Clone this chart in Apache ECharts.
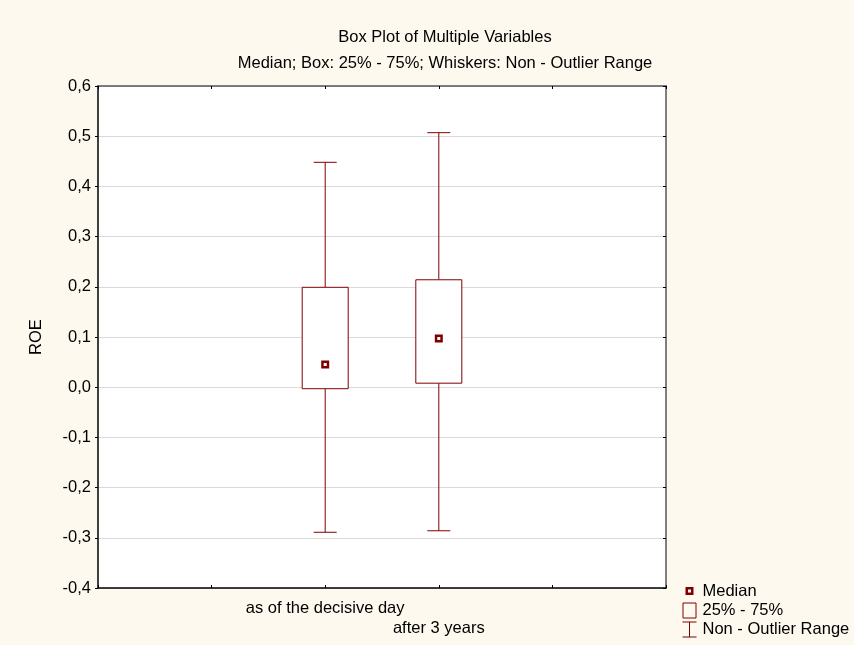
<!DOCTYPE html>
<html>
<head>
<meta charset="utf-8">
<script src="https://cdn.jsdelivr.net/npm/echarts@6/dist/echarts.min.js"></script>
<style>html,body{margin:0;padding:0;background:#fdf9ee;}#chart{width:854px;height:645px;}</style>
</head>
<body>
<div id="chart"></div>
<script>
// ---- data ----
const categories = ['as of the decisive day', 'after 3 years'];
const whiskerLow = [-0.289, -0.286];
const q1 = [-0.003, 0.008];
const median = [0.045, 0.097];
const q3 = [0.199, 0.214];
const whiskerHigh = [0.448, 0.507];
const yMin = -0.4, yMax = 0.6, yStep = 0.1;
const titleText = 'Box Plot of Multiple Variables';
const subtitleText = 'Median; Box: 25% - 75%; Whiskers: Non - Outlier Range';
const yName = 'ROE';
const legendNames = ['Median', '25% - 75%', 'Non - Outlier Range'];

// ---- chart ----
const FONT = 'Liberation Sans, Arial, sans-serif';
const RED = '#800000';
const axisData = ['pad0', 'pad1', ...categories, 'pad2', 'pad3'];
const rows = categories.map((c, i) => [c, whiskerLow[i], q1[i], median[i], q3[i], whiskerHigh[i]]);

const chart = echarts.init(document.getElementById('chart'));
const labelFmt = v => v.toFixed(1).replace('.', ',');

chart.setOption({
  backgroundColor: '#fdf9ee',
  textStyle: { fontFamily: FONT },
  title: [
    { text: titleText, left: 440, top: 24, textAlign: 'center',
      textStyle: { fontSize: 16.5, fontWeight: 'normal', color: '#000', fontFamily: FONT } },
    { text: subtitleText, left: 440, top: 50, textAlign: 'center',
      textStyle: { fontSize: 16.5, fontWeight: 'normal', color: '#000', fontFamily: FONT } }
  ],
  grid: { left: 98, top: 86, right: 188, bottom: 57, show: true, backgroundColor: '#ffffff', borderWidth: 0 },
  legend: {
    orient: 'vertical', left: 681, top: 582.5, itemWidth: 16, itemHeight: 17, itemGap: 1.5,
    selectedMode: false, padding: 0,
    textStyle: { fontSize: 16.5, color: '#000', fontFamily: FONT },
    data: [
      { name: legendNames[0], icon: 'path://M0,0M16,17M4,4.5h8v8h-8zM6.5,7v3h3v-3z',
        itemStyle: { color: RED, borderWidth: 0 } },
      { name: legendNames[1], icon: 'path://M0,0M16,17M1.5,1.5h13v15h-13z',
        itemStyle: { color: 'rgba(0,0,0,0)', borderColor: RED, borderWidth: 1 } },
      { name: legendNames[2], icon: 'path://M0,0M16,17M1,1h14v1h-14zM7.5,2h1v14h-1zM1,16h14v1h-14z',
        itemStyle: { color: RED, borderWidth: 0 } }
    ]
  },
  xAxis: [
    { type: 'category', data: axisData, boundaryGap: false, position: 'bottom',
      axisLine: { onZero: false, lineStyle: { color: '#000', width: 1.5 } },
      axisTick: { inside: true, length: 3, interval: 0, lineStyle: { color: '#000' } },
      axisLabel: { interval: 0, fontSize: 16.5, color: '#000', margin: 10, lineHeight: 20, fontFamily: FONT,
        formatter: (v) => { const k = categories.indexOf(v); return k < 0 ? '' : (k % 2 === 1 ? '\n' + v : v); } },
      splitLine: { show: false } },
    { type: 'category', data: axisData, boundaryGap: false, position: 'top',
      axisLine: { onZero: false, lineStyle: { color: '#555', width: 1.5 } },
      axisTick: { inside: true, length: 3, interval: 0, lineStyle: { color: '#000' } },
      axisLabel: { show: false }, splitLine: { show: false } }
  ],
  yAxis: [
    { type: 'value', min: yMin, max: yMax, interval: yStep, position: 'left',
      name: yName, nameLocation: 'middle', nameRotate: 90, nameGap: 53,
      nameTextStyle: { fontSize: 16.5, color: '#000', fontFamily: FONT },
      axisLine: { show: true, onZero: false, lineStyle: { color: '#000', width: 1.5 } },
      axisTick: { show: true, inside: false, length: 3, lineStyle: { color: '#000' } },
      axisLabel: { fontSize: 16.5, color: '#000', margin: 7, formatter: labelFmt, fontFamily: FONT },
      splitLine: { show: true, lineStyle: { color: '#dadada', width: 1 } } },
    { type: 'value', min: yMin, max: yMax, interval: yStep, position: 'right',
      axisLine: { show: true, onZero: false, lineStyle: { color: '#555', width: 1.5 } },
      axisTick: { show: true, inside: true, length: 3, lineStyle: { color: '#000' } },
      axisLabel: { show: false }, splitLine: { show: false } }
  ],
  series: [
    { name: legendNames[2], type: 'custom', xAxisIndex: 0, yAxisIndex: 0, data: rows,
      encode: { x: 0, y: [1, 2, 3, 4, 5] }, z: 2,
      itemStyle: { color: RED },
      renderItem: (params, api) => {
        const x = api.value(0);
        const pLo = api.coord([x, api.value(1)]);
        const pQ1 = api.coord([x, api.value(2)]);
        const pQ3 = api.coord([x, api.value(4)]);
        const pHi = api.coord([x, api.value(5)]);
        const cx = pLo[0], hw = 11.5;
        const st = { stroke: RED, lineWidth: 1 };
        return { type: 'group', children: [
          { type: 'line', shape: { x1: cx, y1: pQ3[1], x2: cx, y2: pHi[1] }, style: st },
          { type: 'line', shape: { x1: cx - hw, y1: pHi[1], x2: cx + hw, y2: pHi[1] }, style: st },
          { type: 'line', shape: { x1: cx, y1: pQ1[1], x2: cx, y2: pLo[1] }, style: st },
          { type: 'line', shape: { x1: cx - hw, y1: pLo[1], x2: cx + hw, y2: pLo[1] }, style: st }
        ] };
      } },
    { name: legendNames[1], type: 'custom', xAxisIndex: 0, yAxisIndex: 0, data: rows,
      encode: { x: 0, y: [1, 2, 3, 4, 5] }, z: 3,
      itemStyle: { color: 'rgba(0,0,0,0)', borderColor: RED, borderWidth: 1 },
      renderItem: (params, api) => {
        const x = api.value(0);
        const pQ1 = api.coord([x, api.value(2)]);
        const pQ3 = api.coord([x, api.value(4)]);
        const hw = 23;
        return { type: 'rect',
          shape: { x: pQ1[0] - hw, y: pQ3[1], width: hw * 2, height: pQ1[1] - pQ3[1] },
          style: { fill: '#ffffff', stroke: RED, lineWidth: 1 } };
      } },
    { name: legendNames[0], type: 'scatter', xAxisIndex: 0, yAxisIndex: 0, z: 4,
      data: categories.map((c, i) => [c, median[i]]),
      symbol: 'rect', symbolSize: 5.5,
      itemStyle: { color: '#ffffff', borderColor: RED, borderWidth: 2.5, opacity: 1 } }
  ]
});
</script>
</body>
</html>
